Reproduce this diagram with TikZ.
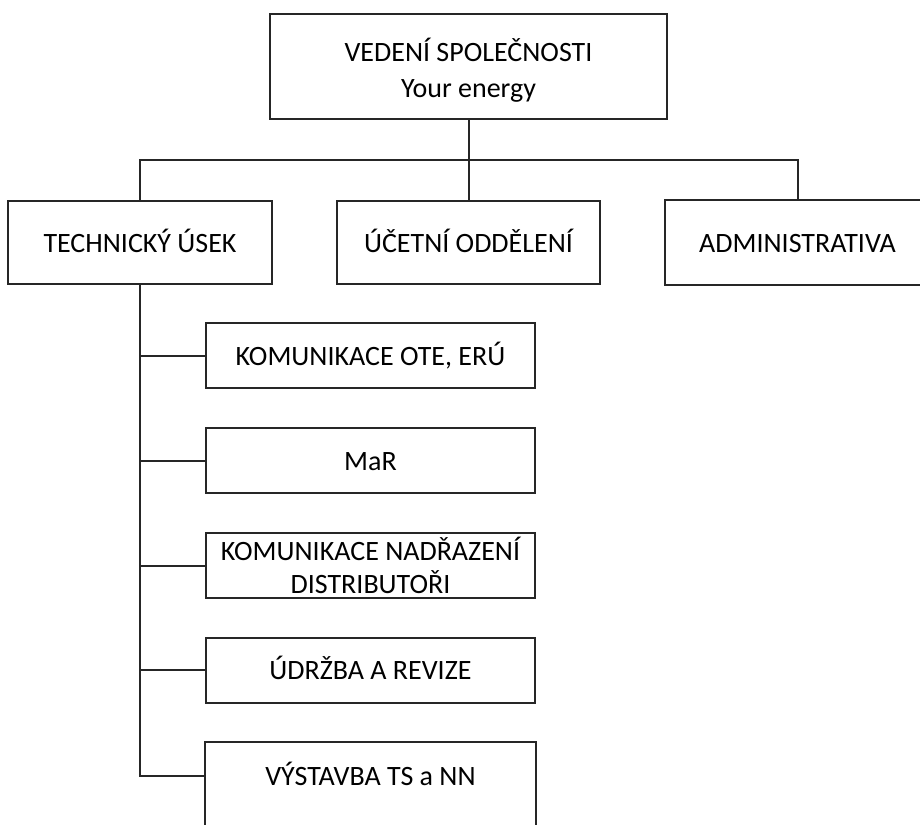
\documentclass[tikz,border=0pt]{standalone}
\usepackage{fontspec}
\setmainfont{Carlito}
\begin{document}
\begin{tikzpicture}[x=1pt,y=-1pt,
  box/.style={draw=black!85, line width=2pt, rectangle, inner sep=0pt, align=center,
    font=\fontsize{28}{36}\selectfont, text=black},
  one/.style={text height=24pt, text depth=5pt},
  conn/.style={draw=black!85, line width=2pt}]
\useasboundingbox (0,0) rectangle (920,824);
% top
\node[box, draw=none, minimum width=395, minimum height=103] (top) at (468.5,70.5) {VEDENÍ SPOLEČNOSTI\\Your energy};
\draw[conn] ([yshift=4pt]top.north west) rectangle ([yshift=4pt]top.south east);
% second row
\node[box, one, minimum width=264, minimum height=83] (tech) at (140,242.5) {TECHNICKÝ ÚSEK};
\node[box, one, minimum width=263, minimum height=83] (ucet) at (468.5,242.5) {ÚČETNÍ ODDĚLENÍ};
\node[box, one, draw=none, minimum width=263, minimum height=83] (admin) at (797.5,242.5) {ADMINISTRATIVA};
\draw[conn] ([xshift=40pt]admin.north east) -- (admin.north west) -- (admin.south west) -- ([xshift=40pt]admin.south east);
\coordinate (busl) at (0,160);
\draw[conn] ([yshift=4pt]top.south) -- (ucet.north);
\draw[conn] (tech.north) |- (busl -| top.south) -| (admin.north);
% sub boxes
\node[box, one, minimum width=329, minimum height=65] (s1) at (370.5,355.5) {KOMUNIKACE OTE, ERÚ};
\node[box, one, minimum width=329, minimum height=65] (s2) at (370.5,460.5) {MaR};
\node[box, minimum width=329, minimum height=65, font=\fontsize{28}{33}\selectfont] (s3) at (370.5,565.5) {KOMUNIKACE NADŘAZENÍ\\DISTRIBUTOŘI};
\node[box, one, minimum width=329, minimum height=65] (s4) at (370.5,670) {ÚDRŽBA A REVIZE};
\node[box, one, draw=none, minimum width=329, minimum height=65] (s5) at (370.5,775.5) {VÝSTAVBA TS a NN};
\draw[conn] (s5.north west) rectangle ([yshift=-40pt]s5.south east);
% spine
\coordinate (spineend) at (tech.south |- s5.west);
\draw[conn] (tech.south) -- (spineend) -- (s5.west);
\draw[conn] (tech.south |- s1.west) -- (s1.west);
\draw[conn] (tech.south |- s2.west) -- (s2.west);
\draw[conn] (tech.south |- s3.west) -- (s3.west);
\draw[conn] (tech.south |- s4.west) -- (s4.west);
\end{tikzpicture}
\end{document}
